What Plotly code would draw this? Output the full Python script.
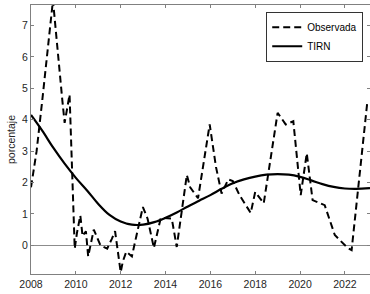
import plotly.graph_objects as go

obs_x = [2008.0, 2008.25, 2008.5, 2008.75, 2008.98, 2009.4, 2009.5, 2009.72, 2009.95,
         2010.05, 2010.2, 2010.3, 2010.45, 2010.55, 2010.8, 2011.1, 2011.4, 2011.6, 2011.75,
         2012.0, 2012.1, 2012.25, 2012.5, 2012.7, 2012.99, 2013.2, 2013.48, 2013.79, 2014.28,
         2014.5, 2014.95, 2015.1, 2015.45, 2015.97, 2016.25, 2016.5, 2016.8, 2017.0, 2017.3,
         2017.8, 2018.0, 2018.38, 2019.0, 2019.36, 2019.7, 2020.03, 2020.3, 2020.56, 2021.1,
         2021.55, 2021.7, 2022.12, 2022.3, 2023.0]
obs_y = [1.85, 3.0, 4.6, 6.3, 7.8, 4.6, 3.9, 4.8, -0.1,
         0.4, 0.95, 0.3, 0.45, -0.35, 0.5, 0.0, -0.1, 0.2, 0.45,
         -0.85, -0.5, -0.2, -0.35, 0.3, 1.22, 0.85, -0.08, 0.88, 0.85,
         -0.05, 2.24, 1.85, 1.5, 3.85, 2.5, 1.65, 2.1, 2.05, 1.6,
         1.03, 1.7, 1.34, 4.22, 3.85, 3.95, 1.6, 2.93, 1.44, 1.28,
         0.33, 0.23, -0.08, -0.15, 4.56]

tirn_x = [2008.0, 2008.5, 2009.0, 2009.5, 2010.0, 2010.5, 2011.0, 2011.5, 2012.0, 2012.5,
          2013.0, 2013.5, 2014.0, 2014.5, 2015.0, 2015.5, 2016.0, 2016.5, 2017.0, 2017.5,
          2018.0, 2018.5, 2019.0, 2019.5, 2020.0, 2020.5, 2021.0, 2021.5, 2022.0, 2022.5, 2023.12]
tirn_y = [4.15, 3.65, 3.1, 2.6, 2.15, 1.75, 1.32, 0.97, 0.76, 0.66,
          0.66, 0.74, 0.88, 1.05, 1.24, 1.42, 1.6, 1.8, 1.98, 2.1,
          2.19, 2.25, 2.27, 2.25, 2.18, 2.07, 1.95, 1.86, 1.81, 1.8, 1.82]

x_ticks = [2008, 2010, 2012, 2014, 2016, 2018, 2020, 2022]
y_ticks = [0, 1, 2, 3, 4, 5, 6, 7]

fig = go.Figure()
fig.add_trace(go.Scatter(x=obs_x, y=obs_y, mode="lines", name="Observada",
                         line=dict(color="black", width=2, dash="7px,4px")))
fig.add_trace(go.Scatter(x=tirn_x, y=tirn_y, mode="lines", name="TIRN",
                         line=dict(color="black", width=2.2, shape="spline", smoothing=1)))

axis_common = dict(showline=True, linecolor="#808080", linewidth=1, mirror="ticks",
                   ticks="inside", ticklen=3, tickcolor="#808080", showgrid=False,
                   automargin=False,
                   tickfont=dict(family="Liberation Sans, Arial", size=10.5, color="#262626"))

fig.update_layout(
    width=370, height=294,
    margin=dict(l=31, r=0, t=5, b=20, autoexpand=False),
    paper_bgcolor="white", plot_bgcolor="white",
    showlegend=True,
    legend=dict(x=0.98, y=0.975, xanchor="right", yanchor="top",
                bordercolor="#333333", borderwidth=1, bgcolor="white",
                font=dict(family="Liberation Sans, Arial", size=10, color="black"),
                tracegroupgap=0, itemwidth=30),
    xaxis=dict(range=[2008, 2023.12], tickvals=x_ticks, ticktext=[str(v) for v in x_ticks],
               zeroline=False, **axis_common),
    yaxis=dict(range=[-0.91, 7.65], tickvals=y_ticks, ticktext=[str(v) for v in y_ticks],
               zeroline=True, zerolinecolor="#8c8c8c", zerolinewidth=1,
               title=dict(text="porcentaje", standoff=4,
                          font=dict(family="Liberation Sans, Arial", size=10.5, color="#262626")),
               **axis_common),
)

fig.write_html("out.html", config={"displayModeBar": False},
               post_script="document.body.style.margin='0';document.body.style.overflow='hidden';")
